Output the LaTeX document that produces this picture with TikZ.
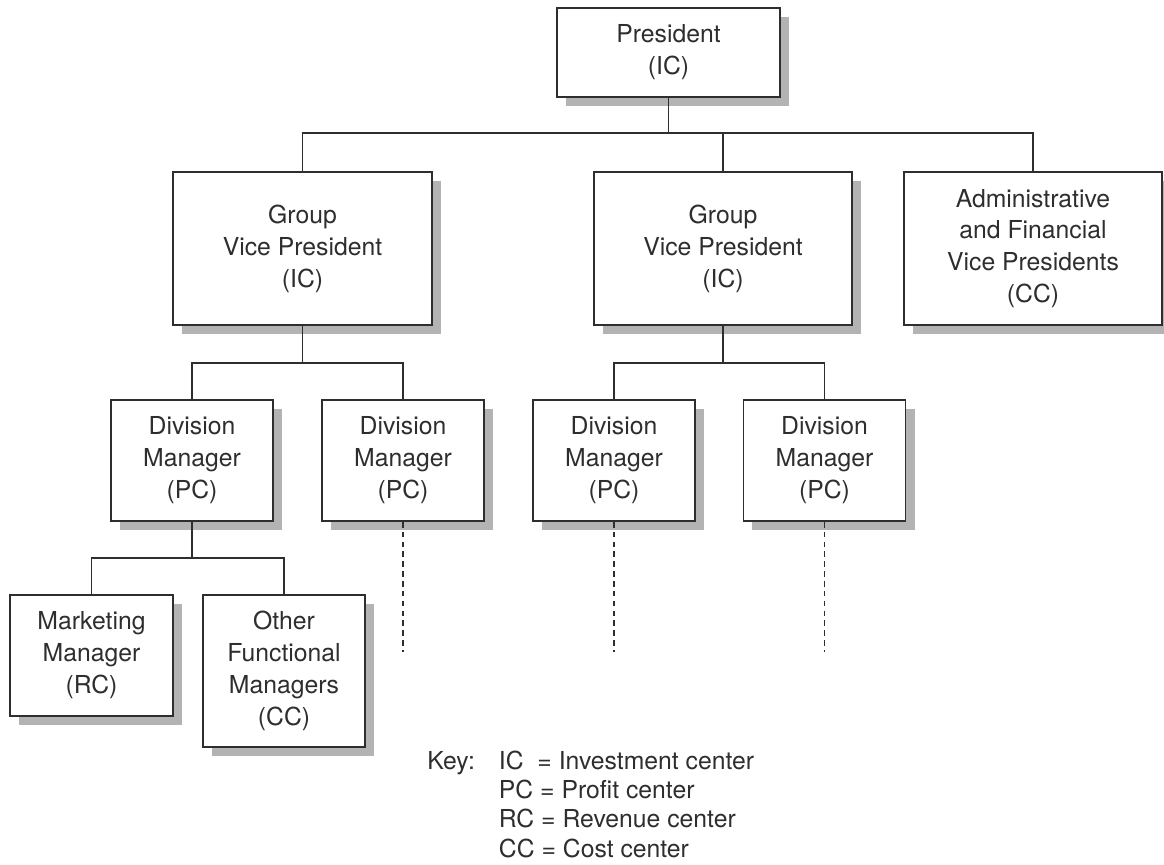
\documentclass[tikz,border=0pt]{standalone}
\usepackage{fontspec}
\setmainfont{TeX Gyre Heros}
\usetikzlibrary{shadows}
\definecolor{ink}{HTML}{2E2E2E}
\definecolor{shade}{HTML}{B3B3B3}
\begin{document}
\begin{tikzpicture}[x=0.025cm,y=-0.025cm,
  unit/.style={draw=ink,line width=1.3pt,fill=white,align=center,inner sep=0pt,
    text=ink,font=\fontsize{17.6}{22.7}\selectfont,
    drop shadow={shadow xshift=0.225cm,shadow yshift=-0.225cm,fill=shade,opacity=1}},
  link/.style={draw=ink,line width=1pt},
  more/.style={draw=ink,line width=1pt,dash pattern=on 4pt off 3pt}]
 \useasboundingbox (0,0) rectangle (1164,865);
 % top level
 \node[unit,minimum width=5.575cm,minimum height=2.225cm] (pres) at (668.5,52.5) {President\\(IC)};
 \node[unit,minimum width=6.46cm,minimum height=3.825cm] (gvpa) at (302.5,248.5) {Group\\Vice President\\(IC)};
 \node[unit,minimum width=6.46cm,minimum height=3.825cm] (gvpb) at (723,248.5) {Group\\Vice President\\(IC)};
 \node[unit,minimum width=6.45cm,minimum height=3.825cm] (admin) at (1033,248.5) {Administrative\\and Financial\\Vice Presidents\\(CC)};
 % divisions
 \node[unit,minimum width=4.05cm,minimum height=3.025cm] (diva) at (192,460.5) {Division\\Manager\\(PC)};
 \node[unit,minimum width=4.05cm,minimum height=3.025cm] (divb) at (403,460.5) {Division\\Manager\\(PC)};
 \node[unit,minimum width=4.05cm,minimum height=3.025cm] (divc) at (614,460.5) {Division\\Manager\\(PC)};
 \node[unit,minimum width=4.05cm,minimum height=3.025cm] (divd) at (824.5,460.5) {Division\\Manager\\(PC)};
 % functional managers
 \node[unit,minimum width=4.075cm,minimum height=3.025cm] (mkt) at (91.5,655.5) {Marketing\\Manager\\(RC)};
 \node[unit,minimum width=4.05cm,minimum height=3.8cm] (func) at (284,671) {Other\\Functional\\Managers\\(CC)};
 % buses
 \coordinate (busa) at (0,133);
 \coordinate (busb) at (0,363);
 \coordinate (busc) at (0,558);
 \coordinate (tail) at (0,652);
 \draw[link] (pres.south) -- (pres.south |- busa);
 \draw[link] (gvpa.north) |- (busa -| admin.north) -- (admin.north);
 \draw[link] (gvpb.north) -- (gvpb.north |- busa);
 \draw[link] (gvpa.south) -- (gvpa.south |- busb);
 \draw[link] (diva.north) |- (busb -| divb.north) -- (divb.north);
 \draw[link] (gvpb.south) -- (gvpb.south |- busb);
 \draw[link] (divc.north) |- (busb -| divd.north) -- (divd.north);
 \draw[link] (diva.south) -- (diva.south |- busc);
 \draw[link] (mkt.north) |- (busc -| func.north) -- (func.north);
 \draw[more] (divb.south) -- (divb.south |- tail);
 \draw[more] (divc.south) -- (divc.south |- tail);
 \draw[more] (divd.south) -- (divd.south |- tail);
 % key
 \node[anchor=north west,inner sep=0pt,text=ink,font=\fontsize{17.6}{20.8}\selectfont] (key) at (427,748.5)
  {\begin{tabular}{@{}l@{\hspace{0.6cm}}l@{}}
   Key: & IC\ \ = Investment center\\
        & PC = Profit center\\
        & RC = Revenue center\\
        & CC = Cost center
  \end{tabular}};
\end{tikzpicture}
\end{document}
